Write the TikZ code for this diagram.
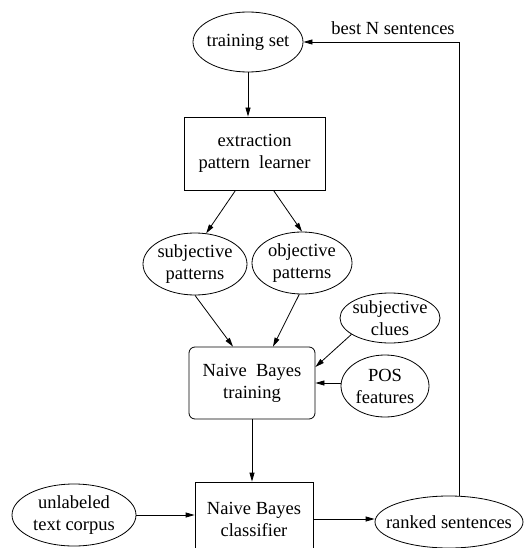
\documentclass[tikz,border=0pt]{standalone}
\usepackage{fontspec}
\setmainfont{Liberation Serif}
\usetikzlibrary{shapes.geometric,arrows.meta}
\begin{document}
\begin{tikzpicture}[x=1pt,y=-1pt,
  every node/.style={font=\fontsize{18.5}{22}\selectfont, align=center, inner sep=0pt},
  ell/.style={draw, ellipse, line width=0.8pt, label={center:#1}},
  box/.style={draw, rectangle, line width=0.8pt},
  rbox/.style={draw, rectangle, rounded corners=6pt, line width=0.8pt},
  arr/.style={draw, line width=0.8pt, -{Triangle[length=9pt,width=5pt]}}]
\useasboundingbox (0,0) rectangle (524,548);
\node[ell={training set}, minimum width=110pt, minimum height=60pt] (ts) at (248,42) {};
\node[box, minimum width=141pt, minimum height=73pt] (learner) at (254.5,153.5) {extraction\\pattern\ \ learner};
\node[ell={subjective\\patterns}, minimum width=104pt, minimum height=62pt] (subj) at (195,264) {};
\node[ell={objective\\patterns}, minimum width=100pt, minimum height=62pt] (obj) at (302,263) {};
\node[ell={subjective\\clues}, minimum width=100pt, minimum height=50pt] (clues) at (390,318) {};
\node[ell={POS\\features}, minimum width=88pt, minimum height=62pt] (pos) at (385,386) {};
\node[rbox, minimum width=126pt, minimum height=72pt] (train) at (252,383) {Naive\ \ Bayes\\training};
\node[box, minimum width=118pt, minimum height=74pt] (cls) at (254,519) {Naive Bayes\\classifier};
\node[ell={unlabeled\\text corpus}, minimum width=124pt, minimum height=62pt] (unl) at (74,515) {};
\node[ell={ranked sentences}, minimum width=148pt, minimum height=52pt] (ranked) at (449,522) {};
\node (lbl) at (393,28) {best N sentences};
\draw[arr] (ts.south) -- (ts.south |- learner.north);
\draw[arr] ([xshift=-19pt]learner.south) -- (subj.70);
\draw[arr] ([xshift=19pt]learner.south) -- (obj.north);
\draw[arr] (subj.south) -- ([xshift=-19pt]train.north);
\draw[arr] (obj.265) -- ([xshift=21pt]train.north);
\draw[arr] (clues.203) -- ([yshift=16pt]train.east);
\draw[arr] (train.east -| pos.west) -- (train.east);
\draw[arr] (train.south) -- (train.south |- cls.north);
\draw[arr] (unl.east) -- (unl.east -| cls.west);
\draw[arr] (cls.east) -- (cls.east -| ranked.west);
\draw[arr] ([xshift=10pt]ranked.north) |- (ts.east);
\end{tikzpicture}
\end{document}
